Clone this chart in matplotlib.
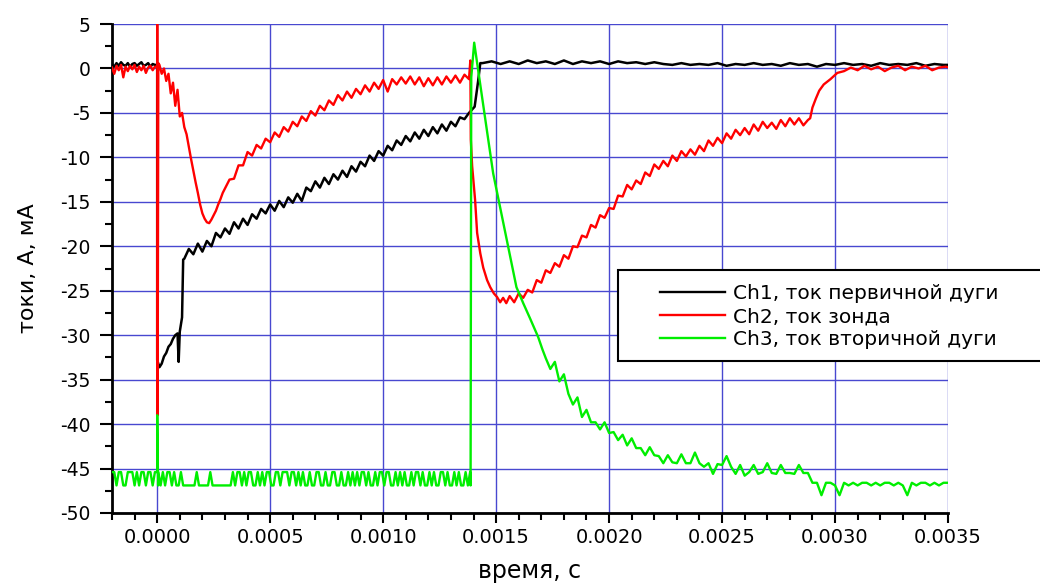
import numpy as np
import matplotlib
matplotlib.use("Agg")
import matplotlib.pyplot as plt
from matplotlib.ticker import MultipleLocator, FormatStrFormatter
from matplotlib.patches import Rectangle
from matplotlib.lines import Line2D

plt.rcParams['font.family'] = ['DejaVu Sans']
plt.rcParams['axes.unicode_minus'] = False

# ---------------- data (time in microseconds, current in A / mA) ----------------
# Ch1 - primary arc current
ch1_pre_t0, ch1_pre_dt = -200, 10
ch1_pre = [0.5, 0.2, 0.6, 0.3, 0.7, 0.4, 0.3, 0.6, 0.2, 0.5,
           0.6, 0.3, 0.5, 0.7, 0.3, 0.4, 0.6, 0.2, 0.5, 0.4]
ch1_fall_t = [0, 0, 10, 20, 30, 40, 50, 60, 70, 80, 90, 95, 100, 110, 115]
ch1_fall_v = [0.4, -32.8, -33.6, -33.2, -32.4, -32.0, -31.3, -31.0, -30.4, -30.0,
              -29.8, -33.0, -29.6, -28.0, -21.5]
ch1_rise_t0, ch1_rise_dt = 120, 20
ch1_rise = [-21.4, -20.3, -20.9, -19.7, -20.6, -19.4, -20.0, -18.5, -19.0, -18.0,
            -18.6, -17.3, -18.0, -16.9, -17.6, -16.4, -16.9, -15.8, -16.3, -15.3,
            -16.0, -14.9, -15.6, -14.5, -15.1, -14.1, -14.9, -13.4, -13.8, -12.7,
            -13.4, -12.3, -13.0, -11.9, -12.5, -11.5, -12.2, -11.0, -11.6, -10.5,
            -11.0, -9.8, -10.4, -9.3, -9.8, -8.7, -9.2, -8.1, -8.6, -7.6,
            -8.2, -7.2, -7.9, -6.9, -7.6, -6.6, -7.3, -6.3, -7.0, -6.0,
            -6.5, -5.5, -5.7, -5.0]
ch1_jump_t = [1405, 1420, 1430]
ch1_jump_v = [-4.3, -1.5, 0.6]
ch1_post_t0, ch1_post_dt = 1440, 40
ch1_post = [0.6, 0.8, 0.5, 0.8, 0.5, 0.9, 0.6, 0.8, 0.5, 0.9,
            0.5, 0.8, 0.6, 0.8, 0.5, 0.8, 0.6, 0.7, 0.5, 0.7,
            0.5, 0.4, 0.6, 0.4, 0.5, 0.4, 0.6, 0.3, 0.5, 0.4,
            0.6, 0.4, 0.5, 0.3, 0.6, 0.4, 0.5, 0.2, 0.5, 0.4,
            0.6, 0.4, 0.5, 0.3, 0.6, 0.4, 0.5, 0.4, 0.6, 0.3,
            0.5, 0.4, 0.4]

# Ch2 - probe current
ch2_pre_t0, ch2_pre_dt = -200, 10
ch2_pre = [0.1, -0.6, 0.3, -0.2, 0.4, -1.0, 0.2, -0.3, 0.3, -0.1,
           0.4, -0.4, 0.2, -0.2, 0.3, -0.5, 0.1, 0.3, -0.2, 0.2]
ch2_spike_t = [0, 0, 2, 5]
ch2_spike_v = [0.2, 6.0, -39.0, 0.6]
ch2_dip_t0, ch2_dip_dt = 10, 10
ch2_dip = [0.4, -0.6, 0.0, -1.4, -0.6, -2.8, -1.6, -4.2, -2.4, -5.4,
           -5.0, -6.6, -7.4, -8.8, -10.2, -11.5, -12.8, -14.0, -15.3, -16.3,
           -16.9, -17.3, -17.4, -17.0, -16.5, -16.0, -15.3, -14.7, -14.0, -13.5]
ch2_rec_t0, ch2_rec_dt = 320, 20
ch2_rec = [-12.5, -12.4, -10.9, -10.9, -9.4, -9.8, -8.6, -9.0, -7.9, -8.3,
           -7.2, -7.7, -6.6, -7.1, -6.0, -6.5, -5.4, -5.9, -4.8, -5.3,
           -4.2, -4.7, -3.6, -4.1, -3.0, -3.6, -2.6, -3.3, -2.3, -2.9,
           -1.9, -2.6, -1.6, -2.3, -1.3, -2.6, -1.2, -1.8, -1.0, -1.7,
           -0.9, -1.8, -1.0, -2.0, -1.1, -1.9, -1.0, -1.8, -0.9, -1.6,
           -0.8, -1.6, -0.7, -1.2]
ch2_drop_t = [1386, 1388, 1394, 1407, 1416, 1430, 1443, 1460, 1474, 1490,
              1504, 1518, 1531, 1545]
ch2_drop_v = [0.9, -8.0, -11.0, -14.8, -18.5, -20.8, -22.4, -23.8, -24.6, -25.3,
              -25.7, -26.3, -25.8, -26.4]
ch2_rise_t0, ch2_rise_dt = 1560, 20
ch2_rise = [-25.6, -26.3, -25.3, -25.8, -24.9, -25.2, -23.8, -24.1, -22.7, -23.0,
            -21.9, -22.3, -21.0, -21.4, -20.0, -20.1, -18.8, -19.0, -17.6, -17.9,
            -16.5, -16.8, -15.7, -15.8, -14.3, -14.4, -13.1, -13.6, -12.6, -13.0,
            -11.7, -12.1, -10.8, -11.3, -10.4, -11.0, -9.8, -10.4, -9.3, -9.9,
            -9.1, -9.7, -8.7, -9.3, -8.1, -8.7, -7.8, -8.4, -7.3, -7.9,
            -6.9, -7.5, -6.7, -7.4, -6.3, -7.0, -6.0, -6.7, -6.1, -6.8,
            -5.8, -6.5, -5.6, -6.3, -5.6, -6.4, -5.8]
ch2_ret_t = [2890, 2900, 2915, 2930, 2950, 2980, 3010, 3040]
ch2_ret_v = [-5.6, -4.4, -3.4, -2.5, -1.8, -1.2, -0.5, -0.3]
ch2_tail_t0, ch2_tail_dt = 3070, 30
ch2_tail = [0.1, -0.2, 0.3, -0.1, 0.2, -0.3, 0.1, 0.3, -0.2, 0.2,
            0.0, 0.3, -0.2, 0.1, 0.2, 0.0]

# Ch3 - secondary arc current (quantized ADC levels before the arc)
ch3_levels = {'H': -45.4, 'L': -46.9}
ch3_pre_t0, ch3_pre_dt = -200, 10
ch3_pre = "HHLHHLLHHHLHLHHLHHLH"
ch3_spike_t = [0, 0, 4]
ch3_spike_v = [-45.4, -39.0, -46.9]
ch3_flat_t0, ch3_flat_dt = 5, 10
ch3_flat = ("HLHLHHLHLLHL" "LLLLLHLLLLL" "HLLLLLLLLL" "HLHHLHLHHLLHLHLHHLL"
            "HHLHHHLHH" "LHLHLLHLLHHLLHLLHHLLHLLHLHL" "HLHHLHLLHLHHLHHLLHLH"
            "LHLLHLHHLHLLHLHLLHHLHLLHLHLLHLH")
ch3_jump_t = [1387, 1390, 1403, 1420, 1440, 1460, 1487, 1520, 1550, 1590,
              1620, 1650, 1686, 1705]
ch3_jump_v = [-46.9, -1.0, 2.9, -0.1, -3.6, -7.1, -11.8, -15.9, -19.6, -24.6,
              -26.4, -28.1, -30.2, -31.6]
ch3_decay_t0, ch3_decay_dt = 1720, 20
ch3_decay = [-32.6, -33.8, -33.0, -35.2, -34.4, -36.6, -37.8, -37.0, -39.2, -38.4,
             -39.8, -39.8, -40.6, -39.8, -41.0, -40.9, -41.8, -41.2, -42.4, -41.6,
             -42.7, -42.7, -43.5, -42.6, -43.5, -43.6, -44.4, -43.5, -44.3, -44.4,
             -43.4, -44.4, -44.4, -43.2, -44.4, -44.8, -44.4, -45.6, -44.5, -44.6,
             -43.6, -44.8, -45.6, -44.6, -45.8, -45.4, -44.6, -45.6, -45.4, -44.4,
             -45.5, -45.6, -44.6, -45.5, -45.5, -45.6, -44.6, -45.5, -45.5, -46.6,
             -46.6, -48.0, -46.6, -46.6, -46.9, -48.0, -46.6, -46.9, -46.6, -46.9,
             -46.6, -46.6, -46.9, -46.6, -46.9, -46.6, -46.6, -46.9, -46.6, -46.9,
             -48.0, -46.6, -46.9, -46.6, -46.6, -46.9, -46.6, -46.9, -46.6, -46.6,
             -46.6]

labels = ['Ch1, ток первичной дуги', 'Ch2, ток зонда', 'Ch3, ток вторичной дуги']
colors = ['#000000', '#ff0000', '#00ee00']
x_ticks = [0.0, 0.0005, 0.0010, 0.0015, 0.0020, 0.0025, 0.0030, 0.0035]
y_ticks = [-50, -45, -40, -35, -30, -25, -20, -15, -10, -5, 0, 5]


def uniform(t0, dt, vals):
    return list(t0 + dt * np.arange(len(vals))), list(vals)


def build(parts):
    ts, vs = [], []
    for t, v in parts:
        ts += list(t)
        vs += list(v)
    return np.array(ts) * 1e-6, np.array(vs)


t1, v1 = build([uniform(ch1_pre_t0, ch1_pre_dt, ch1_pre),
                (ch1_fall_t, ch1_fall_v),
                uniform(ch1_rise_t0, ch1_rise_dt, ch1_rise),
                (ch1_jump_t, ch1_jump_v),
                uniform(ch1_post_t0, ch1_post_dt, ch1_post)])
t2, v2 = build([uniform(ch2_pre_t0, ch2_pre_dt, ch2_pre),
                (ch2_spike_t, ch2_spike_v),
                uniform(ch2_dip_t0, ch2_dip_dt, ch2_dip),
                uniform(ch2_rec_t0, ch2_rec_dt, ch2_rec),
                (ch2_drop_t, ch2_drop_v),
                uniform(ch2_rise_t0, ch2_rise_dt, ch2_rise),
                (ch2_ret_t, ch2_ret_v),
                uniform(ch2_tail_t0, ch2_tail_dt, ch2_tail)])
t3, v3 = build([uniform(ch3_pre_t0, ch3_pre_dt, [ch3_levels[c] for c in ch3_pre]),
                (ch3_spike_t, ch3_spike_v),
                uniform(ch3_flat_t0, ch3_flat_dt, [ch3_levels[c] for c in ch3_flat]),
                (ch3_jump_t, ch3_jump_v),
                uniform(ch3_decay_t0, ch3_decay_dt, ch3_decay)])

# ---------------- figure ----------------
fig = plt.figure(figsize=(10.4, 5.87), dpi=100)
ax = fig.add_axes([112 / 1040, 1 - 513 / 587, (948 - 112) / 1040, (513 - 24) / 587])

ax.plot(t1, v1, color=colors[0], lw=1.8, zorder=3)
ax.plot(t2, v2, color=colors[1], lw=1.7, zorder=4)
ax.plot(t3, v3, color=colors[2], lw=1.7, zorder=5)

ax.set_xlim(-0.0002, 0.0035)
ax.set_ylim(-50, 5)
ax.set_xticks(x_ticks)
ax.set_yticks(y_ticks)
ax.xaxis.set_minor_locator(MultipleLocator(0.0001))
ax.yaxis.set_minor_locator(MultipleLocator(2.5))
ax.xaxis.set_major_formatter(FormatStrFormatter('%.4f'))

ax.grid(True, which='major', color='#4848d0', lw=1.0)
ax.set_axisbelow(True)

for s in ['top', 'right']:
    ax.spines[s].set_visible(False)
for s in ['left', 'bottom']:
    ax.spines[s].set_linewidth(2.0)
    ax.spines[s].set_color('black')

ax.tick_params(axis='x', which='major', direction='out', length=7, width=1.5,
               pad=4, labelsize=14)
ax.tick_params(axis='y', which='major', direction='out', length=8.5, width=1.5,
               pad=7, labelsize=13.5)
ax.tick_params(which='minor', direction='out', length=5, width=1.5)

fig.text(530 / 1040, 1 - 571 / 587, 'время, с', ha='center', va='center', fontsize=17)
fig.text(28 / 1040, 1 - 268 / 587, 'токи, А, мА', ha='center', va='center',
         rotation=90, fontsize=16)

# legend frame and entries
fig.patches.append(Rectangle((618 / 1040, 1 - 361 / 587), (1060 - 618) / 1040,
                             (361 - 270) / 587, transform=fig.transFigure,
                             facecolor='white', edgecolor='black', lw=1.5,
                             zorder=10))
handles = [Line2D([], [], color=c, lw=1.7) for c in colors]
fs = 14.5
fs_px = fs / 72 * 100
leg = fig.legend(handles, labels, loc='upper left',
                 bbox_to_anchor=(660 / 1040, 1 - 284 / 587),
                 frameon=False, fontsize=fs, borderpad=0, borderaxespad=0,
                 handlelength=65 / fs_px, handletextpad=8 / fs_px,
                 labelspacing=0.2)
leg.set_zorder(11)

fig.savefig('out.png', dpi=100)
